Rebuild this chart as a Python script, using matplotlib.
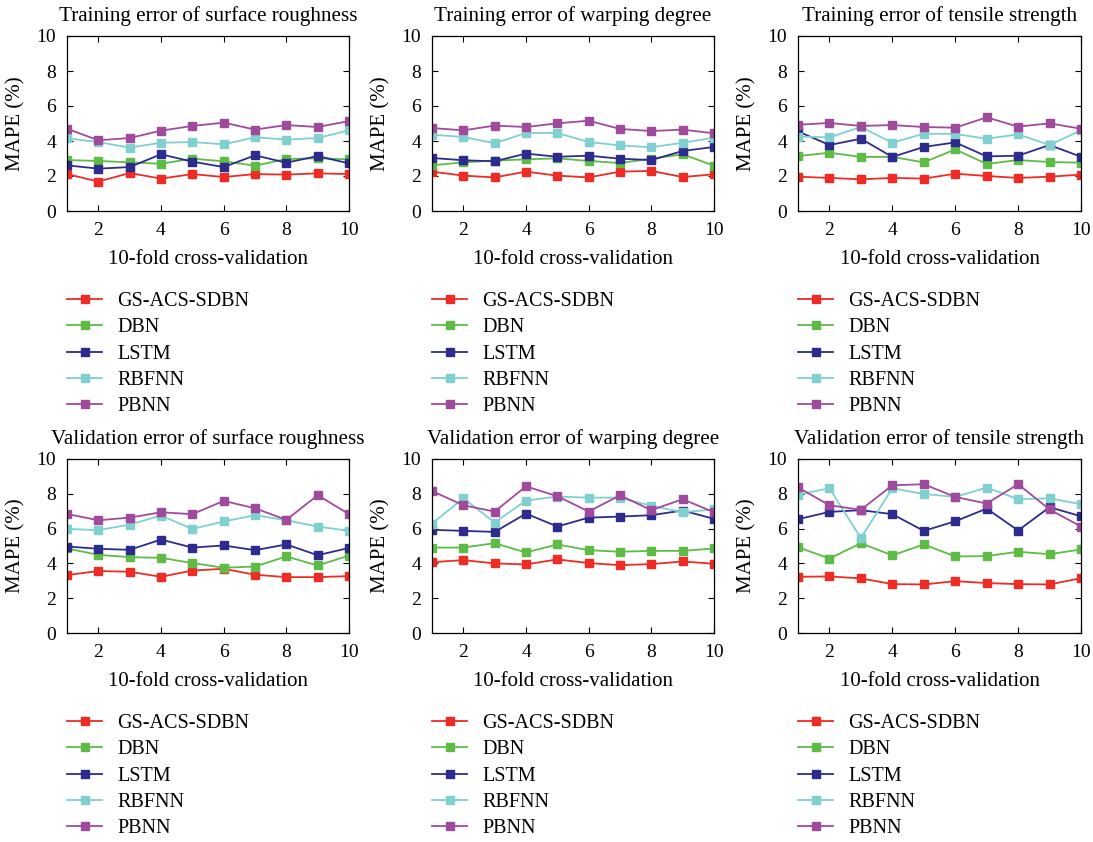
import matplotlib
matplotlib.use("Agg")
import matplotlib.pyplot as plt
import numpy as np

plt.rcParams['font.family'] = ['Liberation Serif', 'DejaVu Serif']

folds = list(range(1, 11))
models = ["GS-ACS-SDBN", "DBN", "LSTM", "RBFNN", "PBNN"]
colors = ["#EE2B25", "#5DBB46", "#2E2B8F", "#7FD0CF", "#A04A9E"]

titles = [
    "Training error of surface roughness",
    "Training error of warping degree",
    "Training error of tensile strength",
    "Validation error of surface roughness",
    "Validation error of warping degree",
    "Validation error of tensile strength",
]

# Training error of surface roughness
tr_rough = {
    "GS-ACS-SDBN": [2.11, 1.68, 2.17, 1.85, 2.11, 1.94, 2.11, 2.08, 2.15, 2.11],
    "DBN":         [2.91, 2.86, 2.78, 2.70, 2.99, 2.84, 2.59, 2.97, 3.01, 2.95],
    "LSTM":        [2.61, 2.42, 2.51, 3.24, 2.82, 2.51, 3.18, 2.76, 3.14, 2.72],
    "RBFNN":       [4.15, 3.94, 3.62, 3.90, 3.94, 3.81, 4.21, 4.08, 4.17, 4.61],
    "PBNN":        [4.70, 4.04, 4.17, 4.59, 4.86, 5.05, 4.65, 4.91, 4.80, 5.14],
}
# Training error of warping degree
tr_warp = {
    "GS-ACS-SDBN": [2.25, 2.02, 1.92, 2.25, 2.02, 1.92, 2.25, 2.29, 1.94, 2.10],
    "DBN":         [2.61, 2.78, 2.88, 2.95, 3.01, 2.86, 2.74, 2.99, 3.24, 2.59],
    "LSTM":        [3.03, 2.90, 2.84, 3.28, 3.10, 3.16, 2.99, 2.91, 3.43, 3.66],
    "RBFNN":       [4.36, 4.23, 3.87, 4.46, 4.46, 3.94, 3.75, 3.64, 3.90, 4.19],
    "PBNN":        [4.74, 4.61, 4.88, 4.80, 5.01, 5.16, 4.69, 4.57, 4.65, 4.44],
}
# Training error of tensile strength
tr_tens = {
    "GS-ACS-SDBN": [1.96, 1.89, 1.81, 1.89, 1.85, 2.13, 2.00, 1.89, 1.96, 2.08],
    "DBN":         [3.14, 3.33, 3.09, 3.09, 2.78, 3.52, 2.69, 2.91, 2.80, 2.76],
    "LSTM":        [4.55, 3.77, 4.13, 3.09, 3.66, 3.92, 3.12, 3.16, 3.77, 3.10],
    "RBFNN":       [4.25, 4.21, 4.80, 3.90, 4.42, 4.40, 4.13, 4.38, 3.77, 4.61],
    "PBNN":        [4.93, 5.03, 4.86, 4.91, 4.80, 4.76, 5.35, 4.82, 5.01, 4.70],
}
# Validation error of surface roughness
va_rough = {
    "GS-ACS-SDBN": [3.33, 3.56, 3.52, 3.23, 3.59, 3.69, 3.35, 3.21, 3.21, 3.27],
    "DBN":         [4.86, 4.49, 4.36, 4.32, 4.02, 3.75, 3.82, 4.40, 3.88, 4.45],
    "LSTM":        [4.97, 4.84, 4.78, 5.37, 4.91, 5.03, 4.76, 5.09, 4.47, 4.89],
    "RBFNN":       [5.98, 5.91, 6.23, 6.75, 5.98, 6.41, 6.77, 6.48, 6.12, 5.87],
    "PBNN":        [6.84, 6.48, 6.63, 6.94, 6.83, 7.59, 7.17, 6.50, 7.92, 6.83],
}
# Validation error of warping degree
va_warp = {
    "GS-ACS-SDBN": [4.07, 4.19, 4.00, 3.94, 4.23, 4.02, 3.90, 3.96, 4.11, 3.98],
    "DBN":         [4.91, 4.91, 5.16, 4.63, 5.09, 4.76, 4.67, 4.72, 4.72, 4.86],
    "LSTM":        [5.93, 5.87, 5.81, 6.86, 6.12, 6.63, 6.69, 6.77, 7.04, 6.56],
    "RBFNN":       [6.29, 7.74, 6.35, 7.61, 7.84, 7.78, 7.78, 7.31, 6.94, 7.10],
    "PBNN":        [8.16, 7.34, 6.98, 8.43, 7.86, 6.98, 7.91, 7.06, 7.69, 6.94],
}
# Validation error of tensile strength
va_tens = {
    "GS-ACS-SDBN": [3.23, 3.25, 3.14, 2.81, 2.79, 2.98, 2.87, 2.81, 2.79, 3.15],
    "DBN":         [4.93, 4.28, 5.16, 4.46, 5.09, 4.40, 4.42, 4.67, 4.53, 4.80],
    "LSTM":        [6.54, 6.96, 7.06, 6.83, 5.87, 6.42, 7.15, 5.89, 7.23, 6.71],
    "RBFNN":       [7.95, 8.32, 5.45, 8.32, 7.99, 7.82, 8.36, 7.69, 7.74, 7.40],
    "PBNN":        [8.37, 7.34, 7.08, 8.49, 8.55, 7.82, 7.44, 8.55, 7.10, 6.12],
}

datasets = [tr_rough, tr_warp, tr_tens, va_rough, va_warp, va_tens]

W, H = 1093, 842
fig = plt.figure(figsize=(W / 100, H / 100), dpi=100)

lefts = [67, 432, 798]
widths = [282, 282, 283]
tops = [36, 459]
heights = [175, 174]
legend_tops = [292, 714]

for i, data in enumerate(datasets):
    r, c = divmod(i, 3)
    l, w = lefts[c], widths[c]
    t, h = tops[r], heights[r]
    ax = fig.add_axes([l / W, 1 - (t + h) / H, w / W, h / H])
    for m, col in zip(models, colors):
        ax.plot(folds, data[m], color=col, marker='s', markersize=5.5,
                linewidth=1.3, label=m)
    ax.set_xlim(1, 10)
    ax.set_ylim(0, 10)
    ax.set_xticks([2, 4, 6, 8, 10])
    ax.set_yticks([0, 2, 4, 6, 8, 10])
    ax.tick_params(direction='in', top=True, right=True, labelsize=14,
                   length=4, width=0.8, pad=8)
    for s in ax.spines.values():
        s.set_linewidth(0.9)
    ax.set_title(titles[i], fontsize=15.2, pad=11)
    ax.set_xlabel("10-fold cross-validation", fontsize=15, labelpad=8)
    ax.set_ylabel("MAPE (%)", fontsize=15, labelpad=8)
    handles, labels = ax.get_legend_handles_labels()
    fig.legend(handles, labels, loc='upper left',
               bbox_to_anchor=(l / W, 1 - legend_tops[r] / H),
               bbox_transform=fig.transFigure, frameon=False,
               fontsize=14.5, handlelength=1.75, handletextpad=0.75,
               labelspacing=0.36, borderaxespad=0, borderpad=0)

fig.savefig("out.png", dpi=100)
